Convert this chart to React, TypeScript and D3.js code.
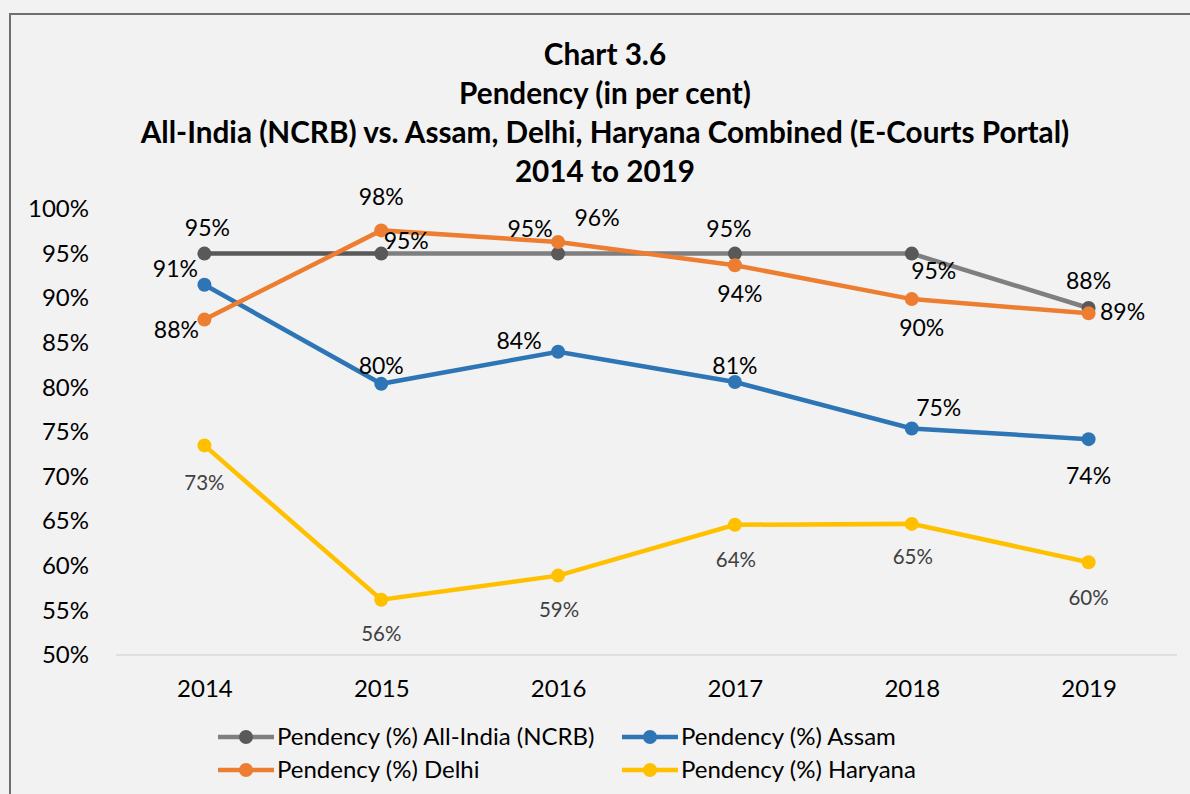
import { useEffect, useRef } from 'react';
import * as d3 from 'd3';

// chart data
const years = ['2014', '2015', '2016', '2017', '2018', '2019'];
const allIndia = [95.0, 95.0, 95.0, 95.0, 95.0, 88.9];
const assam = [91.5, 80.4, 84.0, 80.6, 75.4, 74.2];
const delhi = [87.6, 97.6, 96.3, 93.7, 89.9, 88.3];
const haryana = [73.5, 56.2, 58.9, 64.6, 64.7, 60.4];

// labels as printed on the chart
const allIndiaLabels = ['95%', '95%', '95%', '95%', '95%', '88%'];
const assamLabels = ['91%', '80%', '84%', '81%', '75%', '74%'];
const delhiLabels = ['88%', '98%', '96%', '94%', '90%', '89%'];
const haryanaLabels = ['73%', '56%', '59%', '64%', '65%', '60%'];

const yTicks = [50, 55, 60, 65, 70, 75, 80, 85, 90, 95, 100];

const titleLines = [
  'Chart 3.6',
  'Pendency (in per cent)',
  'All-India (NCRB) vs. Assam, Delhi, Haryana Combined (E-Courts Portal)',
  '2014 to 2019',
];

// label offsets from the point (dx, dy), hand placed like in the excel original
const allIndiaOffsets = [[3, -26], [25, -13], [-28, -25], [-6, -25], [22, 17], [0, -27]];
const assamOffsets = [[-29, -16], [0, -18], [-39, -11], [0, -16], [27, -20], [0, 37]];
const delhiOffsets = [[-28, 10], [0, -33], [39, -24], [5, 29], [10, 29], [34, -1]];
const haryanaOffsets = [[0, 37], [0, 34], [1, 34], [1, 35], [1, 33], [0, 36]];

interface Series {
  name: string;
  values: number[];
  labels: string[];
  offsets: number[][];
  color: string;
  marker: string;
  labelColor: string;
  labelSize: number;
}

const series: Series[] = [
  { name: 'Pendency (%) All-India (NCRB)', values: allIndia, labels: allIndiaLabels, offsets: allIndiaOffsets, color: '#7f7f7f', marker: '#595959', labelColor: '#000', labelSize: 23 },
  { name: 'Pendency (%) Assam', values: assam, labels: assamLabels, offsets: assamOffsets, color: '#2e75b6', marker: '#2e75b6', labelColor: '#000', labelSize: 23 },
  { name: 'Pendency (%) Delhi', values: delhi, labels: delhiLabels, offsets: delhiOffsets, color: '#ed7d31', marker: '#ed7d31', labelColor: '#000', labelSize: 23 },
  { name: 'Pendency (%) Haryana', values: haryana, labels: haryanaLabels, offsets: haryanaOffsets, color: '#ffc000', marker: '#ffc000', labelColor: '#404040', labelSize: 20.5 },
];

const W = 1190;
const H = 794;
const FONT = 'Lato, "Open Sans", sans-serif';

export default function App() {
  const svgRef = useRef<SVGSVGElement | null>(null);

  useEffect(() => {
    if (!svgRef.current) return;
    const svg = d3.select(svgRef.current);
    svg.selectAll('*').remove();

    const x = d3.scalePoint<string>().domain(years).range([116, 1177]).padding(0.5);
    const y = d3.scaleLinear().domain([50, 100]).range([655, 209]);

    // background + frame
    svg.append('rect').attr('width', W).attr('height', H).attr('fill', '#f2f2f2');
    svg.append('rect')
      .attr('x', 10).attr('y', 14).attr('width', W + 20).attr('height', H + 20)
      .attr('fill', 'none').attr('stroke', '#6f6f6f').attr('stroke-width', 2);

    // title
    const title = svg.append('g').attr('font-family', FONT).attr('font-weight', 700)
      .attr('font-size', 29.7).attr('fill', '#000').attr('text-anchor', 'middle');
    titleLines.forEach((t, i) => {
      title.append('text').attr('x', 605).attr('y', 65 + i * 39).text(t);
    });

    // y axis labels
    const yAxis = svg.append('g')
      .attr('transform', 'translate(89,0)')
      .call(d3.axisLeft(y).tickValues(yTicks).tickSize(0).tickPadding(0).tickFormat((d) => `${d}%`));
    yAxis.select('.domain').remove();
    yAxis.selectAll('text').attr('font-family', FONT).attr('font-size', 24).attr('fill', '#000');

    // x axis baseline + labels
    svg.append('line')
      .attr('x1', 116).attr('x2', 1177).attr('y1', y(50)).attr('y2', y(50))
      .attr('stroke', '#d9d9d9').attr('stroke-width', 1.5);
    const xAxis = svg.append('g')
      .attr('transform', `translate(0,${y(50) + 25})`)
      .call(d3.axisBottom(x).tickSize(0).tickPadding(0));
    xAxis.select('.domain').remove();
    xAxis.selectAll('text').attr('font-family', FONT).attr('font-size', 24).attr('fill', '#000');

    const line = d3.line<number>()
      .x((_, i) => x(years[i]) as number)
      .y((d) => y(d));

    series.forEach((s, si) => {
      const g = svg.append('g');
      if (si === 0) {
        // first segment of the all-india line is darker in the original
        g.append('path').datum(s.values.slice(1)).attr('fill', 'none')
          .attr('stroke', s.color).attr('stroke-width', 4.5)
          .attr('d', d3.line<number>().x((_, i) => x(years[i + 1]) as number).y((d) => y(d)));
        g.append('path').datum(s.values.slice(0, 2)).attr('fill', 'none')
          .attr('stroke', s.marker).attr('stroke-width', 4.5).attr('d', line);
      } else {
        g.append('path').datum(s.values).attr('fill', 'none')
          .attr('stroke', s.color).attr('stroke-width', 4.5).attr('d', line);
      }
      g.selectAll('circle').data(s.values).join('circle')
        .attr('cx', (_, i) => x(years[i]) as number)
        .attr('cy', (d) => y(d))
        .attr('r', 7)
        .attr('fill', s.marker);
    });

    // data labels on top
    series.forEach((s) => {
      svg.append('g').selectAll('text').data(s.values).join('text')
        .attr('x', (_, i) => (x(years[i]) as number) + s.offsets[i][0])
        .attr('y', (d, i) => y(d) + s.offsets[i][1])
        .attr('dy', '0.35em')
        .attr('text-anchor', 'middle')
        .attr('font-family', FONT)
        .attr('font-size', s.labelSize)
        .attr('fill', s.labelColor)
        .text((_, i) => s.labels[i]);
    });

    // legend, two columns
    const legendCols = [218, 622];
    const legendRows = [737, 770];
    series.forEach((s, i) => {
      const lx = legendCols[i % 2];
      const ly = legendRows[Math.floor(i / 2)];
      const g = svg.append('g').attr('transform', `translate(${lx},${ly})`);
      g.append('line').attr('x1', 0).attr('x2', 56).attr('y1', 0).attr('y2', 0)
        .attr('stroke', s.color).attr('stroke-width', 4.5);
      g.append('circle').attr('cx', 28).attr('cy', 0).attr('r', 7).attr('fill', s.marker);
      g.append('text').attr('x', 59).attr('y', 0).attr('dy', '0.35em')
        .attr('font-family', FONT).attr('font-size', 24).attr('fill', '#000')
        .text(s.name);
    });
  }, []);

  return (
    <div style={{ position: 'absolute', left: 0, top: 0 }}>
      <svg ref={svgRef} width={W} height={H} style={{ display: 'block' }}></svg>
    </div>
  );
}
